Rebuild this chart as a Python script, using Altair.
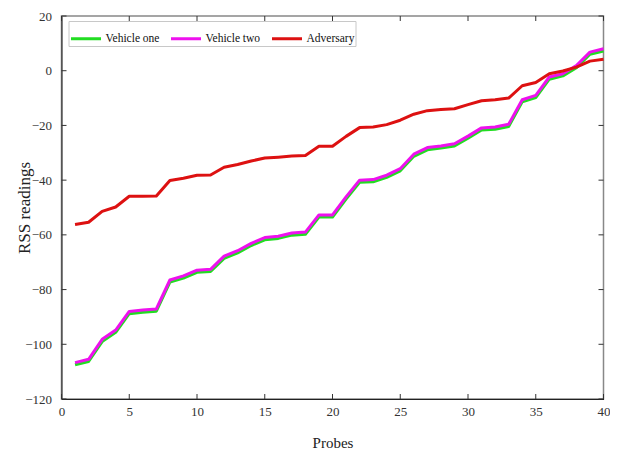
import altair as alt
import pandas as pd

probes = list(range(1, 41))
series_names = ["Vehicle one", "Vehicle two", "Adversary"]
series_colors = ["#22dd22", "#ee11ee", "#dd1111"]

vehicle_one = [-107.5, -106.3, -99.0, -95.6, -88.8, -88.3, -87.9, -77.3, -75.8, -73.7,
               -73.4, -68.6, -66.6, -63.9, -61.8, -61.3, -60.1, -59.8, -53.5, -53.5,
               -46.9, -40.8, -40.6, -39.0, -36.6, -31.3, -28.9, -28.3, -27.5, -24.7,
               -21.7, -21.4, -20.4, -11.4, -9.8, -3.1, -1.9, 1.1, 6.0, 7.2]
vehicle_two = [-106.7, -105.5, -98.2, -94.8, -88.0, -87.5, -87.1, -76.5, -75.0, -72.9,
               -72.6, -67.8, -65.8, -63.1, -61.0, -60.5, -59.3, -59.0, -52.7, -52.7,
               -46.1, -40.0, -39.8, -38.2, -35.8, -30.5, -28.1, -27.5, -26.7, -23.9,
               -20.9, -20.6, -19.6, -10.6, -9.0, -2.3, -1.1, 1.9, 6.8, 8.0]
adversary = [-56.2, -55.4, -51.4, -49.8, -45.9, -45.9, -45.8, -40.1, -39.3, -38.2,
             -38.1, -35.3, -34.3, -33.0, -31.9, -31.6, -31.2, -31.0, -27.6, -27.6,
             -24.0, -20.8, -20.6, -19.7, -18.1, -15.9, -14.6, -14.2, -13.9, -12.4,
             -11.0, -10.6, -10.0, -5.5, -4.3, -1.1, -0.1, 1.3, 3.5, 4.2]

x_ticks = [0, 5, 10, 15, 20, 25, 30, 35, 40]
y_ticks = [-120, -100, -80, -60, -40, -20, 0, 20]

W, H = 542, 383
FONT = "Liberation Serif"

rows = []
for name, vals in zip(series_names, [vehicle_one, vehicle_two, adversary]):
    for p, v in zip(probes, vals):
        rows.append({"Probe": p, "RSS": v, "Series": name})
df = pd.DataFrame(rows)

xscale = alt.Scale(domain=[0, 40], nice=False, zero=False)
yscale = alt.Scale(domain=[-120, 20], nice=False, zero=False)
color = alt.Color("Series:N",
                  scale=alt.Scale(domain=series_names, range=series_colors),
                  legend=alt.Legend(title=None, orient="none", legendX=7, legendY=5,
                                    direction="horizontal", fillColor="white",
                                    strokeColor="#c8c8c8", padding=1,
                                    symbolType="stroke", symbolSize=900,
                                    symbolStrokeWidth=3, labelFont=FONT,
                                    labelFontSize=11.5, labelColor="#111",
                                    labelOffset=3, columnPadding=5))

xaxis = alt.Axis(values=x_ticks, grid=False, ticks=False, labelFlush=False,
                 labelPadding=6, labelFont=FONT, labelFontSize=13, labelColor="#333",
                 domainColor="#222", title="Probes", titleFont=FONT,
                 titleFontSize=15, titleFontWeight="normal", titleColor="#222",
                 titleBaseline="alphabetic", titleY=48)
yaxis = alt.Axis(values=y_ticks, grid=False, ticks=False, labelPadding=10,
                 labelFont=FONT, labelFontSize=13, labelColor="#333",
                 domainColor="#222", title="RSS readings", titleFont=FONT,
                 titleFontSize=17, titleFontWeight="normal", titleColor="#222",
                 titleBaseline="alphabetic", titleX=-32)

layers = []
for name in series_names:
    layers.append(
        alt.Chart(df).transform_filter(alt.datum.Series == name)
        .mark_line(strokeWidth=3, strokeJoin="round")
        .encode(x=alt.X("Probe:Q", scale=xscale, axis=xaxis),
                y=alt.Y("RSS:Q", scale=yscale, axis=yaxis),
                color=color)
    )

xt = pd.DataFrame({"t": x_ticks})
yt = pd.DataFrame({"t": y_ticks})
tick_bottom = alt.Chart(xt).mark_rule(color="#333", strokeWidth=1).encode(
    x=alt.X("t:Q", scale=xscale), y=alt.value(H), y2=alt.value(H - 5))
tick_top = alt.Chart(xt).mark_rule(color="#333", strokeWidth=1).encode(
    x=alt.X("t:Q", scale=xscale), y=alt.value(0), y2=alt.value(5))
tick_left = alt.Chart(yt).mark_rule(color="#333", strokeWidth=1).encode(
    y=alt.Y("t:Q", scale=yscale), x=alt.value(0), x2=alt.value(5))
tick_right = alt.Chart(yt).mark_rule(color="#333", strokeWidth=1).encode(
    y=alt.Y("t:Q", scale=yscale), x=alt.value(W), x2=alt.value(W - 5))

chart = alt.layer(tick_bottom, tick_top, tick_left, tick_right, *layers).properties(
    width=W, height=H,
    autosize=alt.AutoSizeParams(type="none"),
    padding={"left": 53.5, "top": 8, "right": 6.5, "bottom": 50},
    background="white",
).configure_view(stroke="#888", strokeWidth=1.5)

chart.save("out.html", embed_options={"renderer": "svg", "actions": False})
